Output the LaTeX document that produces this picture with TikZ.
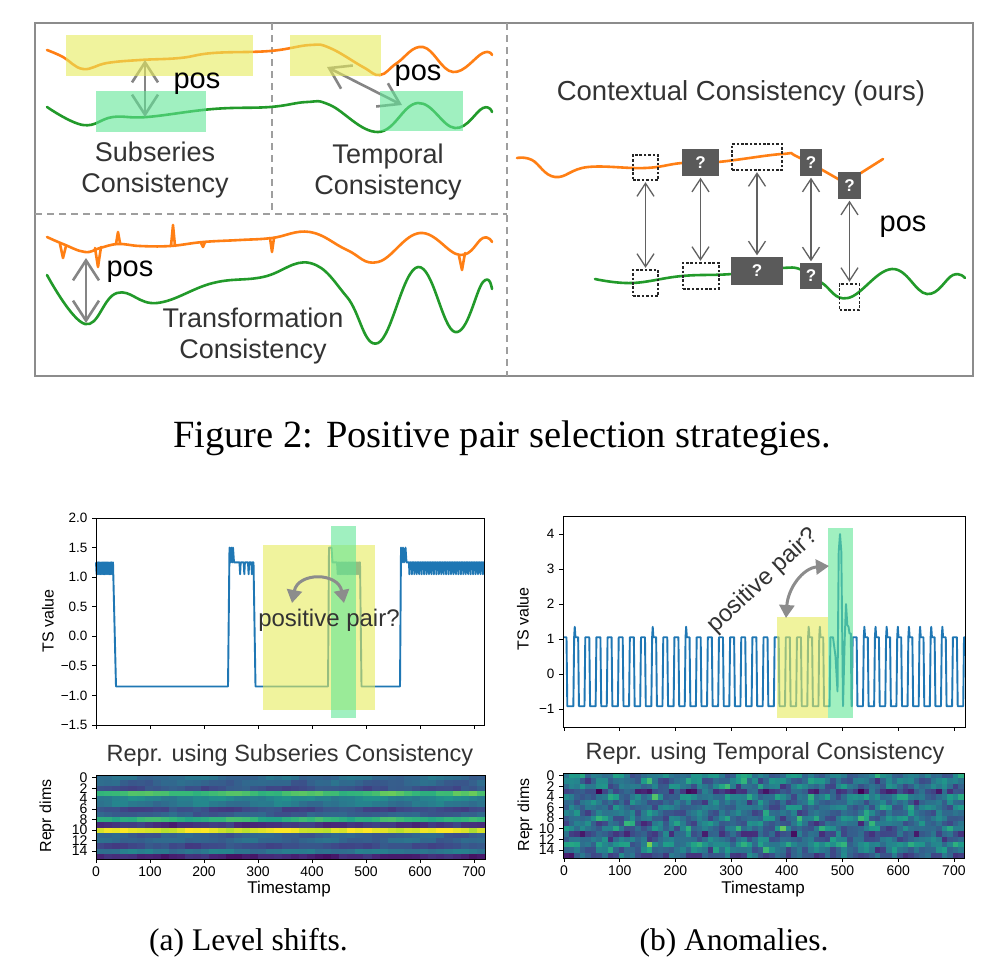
\documentclass[tikz,border=0pt]{standalone}
\usepackage{fontspec}
\setmainfont{Liberation Serif}
\setsansfont{Liberation Sans}
\usetikzlibrary{arrows.meta}
\definecolor{cor}{HTML}{FF7F14}
\definecolor{cgr}{HTML}{229A2A}
\definecolor{hly}{HTML}{E6EC5C}
\definecolor{hlg}{HTML}{61E696}
\definecolor{tsb}{HTML}{1F77B4}
\definecolor{qboxc}{HTML}{5A5A5A}
\definecolor{txt}{HTML}{333333}
\definecolor{vir0}{HTML}{440154}
\definecolor{vir1}{HTML}{482878}
\definecolor{vir2}{HTML}{3E4A89}
\definecolor{vir3}{HTML}{31688E}
\definecolor{vir4}{HTML}{26828E}
\definecolor{vir5}{HTML}{1F9E89}
\definecolor{vir6}{HTML}{35B779}
\definecolor{vir7}{HTML}{6DCD59}
\definecolor{vir8}{HTML}{B4DE2C}
\definecolor{vir9}{HTML}{FDE725}
\newcommand\fsz[1]{\fontsize{#1}{#1}\selectfont}
\newcommand\virset[1]{%
  \pgfmathsetmacro\vvs{max(0,min(8.999,(#1)*9))}%
  \pgfmathtruncatemacro\vvi{\vvs}%
  \pgfmathtruncatemacro\vvj{\vvi+1}%
  \pgfmathsetmacro\vvf{(\vvs-\vvi)*100}%
  \colorlet{vcell}{vir\vvj!\vvf!vir\vvi}%
}
\begin{document}
\begin{tikzpicture}[x=1pt,y=-1pt,
  curve/.style={line width=2.6pt, line cap=round, line join=round},
  ocurve/.style={curve, draw=cor},
  gcurve/.style={curve, draw=cgr},
  hyel/.style={fill=hly, fill opacity=0.6},
  hgrn/.style={fill=hlg, fill opacity=0.6},
  sep/.style={draw=black!38, line width=1.4pt, dash pattern=on 7pt off 5pt},
  posarrow/.style={draw=black!48, line width=2.6pt, {Straight Barb[length=20pt,width=26pt]}-{Straight Barb[length=20pt,width=26pt]}},
  lbl/.style={font=\sffamily\fontsize{27}{31}\selectfont, text=txt, align=center},
  poslbl/.style={font=\sffamily\fsz{29}, text=black},
  dotbox/.style={draw=black!85, line width=1.3pt, dash pattern=on 2.6pt off 1.8pt, inner sep=0pt},
  qbox/.style={fill=qboxc, inner sep=0pt, text=white, font=\sffamily\bfseries\fsz{17}},
  ctxarrow/.style={draw=black!62, line width=1.3pt, {Straight Barb[length=13pt,width=17pt]}-{Straight Barb[length=13pt,width=17pt]}, shorten <=1.5pt, shorten >=1.5pt},
  tsline/.style={draw=tsb, line width=1.9pt, line join=round},
  frame/.style={draw=black, line width=0.8pt},
  tick/.style={draw=black, line width=0.8pt},
  ticklbl/.style={font=\sffamily\fsz{13.5}, text=black},
  axlbl/.style={font=\sffamily\fsz{16}, text=black},
  ttl/.style={font=\sffamily\fsz{23.5}, text=txt},
  curarrow/.style={draw=black!45, line width=3pt, {Triangle[length=13pt,width=15pt]}-{Triangle[length=13pt,width=15pt]}},
  pplbl/.style={font=\sffamily\fsz{24}, text=txt},
  capt/.style={font=\fsz{38.5}, text=black, anchor=base},
  subcapt/.style={font=\fsz{31.5}, text=black, anchor=base}
]
\useasboundingbox (0,0) rectangle (1000,970);
\fill[white] (0,0) rectangle (1000,970);

% ================= TOP PANEL =================
\draw[draw=black!45, line width=2pt] (35,23) rectangle (973,376);
\draw[sep] (272,23) -- (272,214);
\draw[sep] (35,214) -- (507,214);
\draw[sep] (507,23) -- (507,376);

% curves top-left
\draw[ocurve] plot[smooth, tension=0.7] coordinates {(47,50) (63,57) (83,69) (107,63) (140,60) (180,58) (213,53) (270,51) (310,45) (330,48) (363,67) (380,75) (397,63) (423,47) (453,72) (483,53) (492,55)};
\draw[gcurve] plot[smooth, tension=0.7] coordinates {(47,107) (83,125) (113,117) (147,117) (213,109) (270,107) (307,102) (330,105) (378,132) (418,103) (455,128) (483,108) (492,112)};

% transformation curves
\draw[ocurve] plot[smooth, tension=0.7] coordinates {(47,237) (63,244) (85,252) (100,248) (118,244) (140,246) (170,246) (203,242) (240,240) (272,238) (310,232) (347,250) (378,262) (420,233) (460,255) (483,238) (492,242)};
\draw[ocurve] (60,244) -- (63,258) -- (66,246);
\draw[ocurve] (95,248) -- (98,267) -- (101,247);
\draw[ocurve] (116,244) -- (118,232) -- (120,243);
\draw[ocurve] (171,246) -- (173,225) -- (175,246);
\draw[ocurve] (201,243) -- (203,247) -- (205,242);
\draw[ocurve] (270,238) -- (272,252) -- (274,238);
\draw[ocurve] (459,256) -- (462,270) -- (465,253);
\draw[gcurve] plot[smooth, tension=0.7] coordinates {(47,275) (85,324) (117,293) (157,303) (213,283) (263,277) (310,263) (347,297) (378,343) (418,267) (455,332) (483,282) (492,289)};

% pos arrows
\coordinate (ss1) at (145,60);
\coordinate (ss2) at (145,117);
\coordinate (tp1) at (327,67);
\coordinate (tp2) at (402,105);
\coordinate (tf1) at (86,258);
\coordinate (tf2) at (86,323);
\draw[posarrow] (ss1) -- (ss2);
\draw[posarrow] (tp1) -- (tp2);
\draw[posarrow] (tf1) -- (tf2);

% highlights
\fill[hyel] (66,35) rectangle (253,76);
\fill[hgrn] (96,91) rectangle (206,132);
\fill[hyel] (290,35) rectangle (381,76);
\fill[hgrn] (380,91) rectangle (463,131);

\node[poslbl] (pos1) at (197,84) {pos};
\node[poslbl] (pos2) at (418,76) {pos};
\node[poslbl] (pos3) at (130,272) {pos};
\node[lbl] (subs) at (155,170.5) {Subseries\\Consistency};
\node[lbl] (temp) at (388,172.5) {Temporal\\Consistency};
\node[lbl] (trans) at (253,336) {Transformation\\Consistency};

% right panel
\node[lbl, font=\sffamily\fsz{27.5}] (ctx) at (741,93) {Contextual Consistency (ours)};
\draw[ocurve] plot[smooth, tension=0.7] coordinates {(517,158) (532,160) (555,177) (588,167) (645,168) (682,163) (718,162) (782,154) (798,157) (845,183)};
\draw[ocurve] (845,183) -- (883,159);
\draw[gcurve] plot[smooth, tension=0.7] coordinates {(595,279) (632,283) (682,276) (732,274) (782,268) (802,270) (822,283) (848,298) (892,269) (927,294) (953,275) (965,278)};

\node[dotbox, minimum width=25pt, minimum height=25pt] (T1) at (645.5,167.5) {};
\node[qbox, minimum width=37pt, minimum height=27pt] (T2) at (700.5,162.5) {?};
\node[dotbox, minimum width=50pt, minimum height=26pt] (T3) at (757,157) {};
\node[qbox, minimum width=22pt, minimum height=27pt] (T4) at (811,162.5) {?};
\node[qbox, minimum width=23pt, minimum height=27pt] (T5) at (849.5,185.5) {?};
\node[dotbox, minimum width=25pt, minimum height=26pt] (B1) at (645.5,283) {};
\node[dotbox, minimum width=36pt, minimum height=26pt] (B2) at (701,276) {};
\node[qbox, minimum width=52pt, minimum height=28pt] (B3) at (757,271) {?};
\node[qbox, minimum width=22pt, minimum height=26pt] (B4) at (811,276) {?};
\node[dotbox, minimum width=20pt, minimum height=26pt] (B5) at (849.5,297) {};
\draw[ctxarrow] (T1.south) -- (B1.north);
\draw[ctxarrow] (T2.south) -- (T2.south |- B2.north);
\draw[ctxarrow] (T3.south) -- (B3.north);
\draw[ctxarrow] (T4.south) -- (B4.north);
\draw[ctxarrow] (T5.south) -- (B5.north);
\node[poslbl] (pos4) at (903,227) {pos};

% caption
\node[capt] (cap) at (502,447) {Figure 2: Positive pair selection strategies.};

% ================= LEFT PLOT =================
\draw[tsline] (96,562.4) \foreach \k in {0,...,12}{ -- ({96.6+\k*1.3},574.2) -- ({97.2+\k*1.3},562.4)} -- (113,562.4) -- (116,686.5) -- (228,686.5) -- (229.5,547.6) -- (230.5,562.4) -- (231.3,547.6) -- (232.2,562.4) -- (233,547.6) -- (234,562.4) -- (239.5,562.4) -- (240.1,574.2) -- (240.7,562.4) -- (243.7,562.4) -- (244.3,574.2) -- (244.9,562.4) -- (248,562.4) -- (248.6,574.2) -- (249.2,562.4) -- (251.3,562.4) -- (251.9,574.2) -- (252.5,562.4) -- (253.5,562.4) -- (255.5,686.5) -- (328,686.5) -- (329,547.6) -- (331.5,547.6) -- (332.5,562.4) \foreach \k in {0,...,16}{ -- ({337+\k*1.4},562.4) -- ({337.7+\k*1.4},574.2)} -- (360,562.4) -- (361.5,686.5) -- (400,686.5) -- (401,547.6) -- (402,562.4) -- (403,547.6) -- (404,562.4) -- (405.5,547.6) -- (406.5,562.4) \foreach \k in {0,...,30}{ -- ({409+\k*2.45},562.4) -- ({409.4+\k*2.45},574.2) -- ({409.8+\k*2.45},562.4)} -- (484,562.4);
\fill[hyel] (263,545) rectangle (375,710);
\fill[hgrn] (331,526) rectangle (356,718);
\draw[frame] (96,518) rectangle (484,725);
\foreach \v/\t in {2.0/2.0,1.5/1.5,1.0/1.0,0.5/0.5,0.0/0.0,-0.5/−0.5,-1.0/−1.0,-1.5/−1.5}{
  \pgfmathsetmacro\yy{518+(2-\v)*59.143}
  \draw[tick] (96,\yy) -- (92,\yy);
  \node[ticklbl, anchor=east] at (91,\yy) {\t};
}
\foreach \t in {0,100,...,700}{
  \draw[tick] ({96+\t*0.54},725) -- ({96+\t*0.54},729);
}
\node[axlbl, rotate=90] (tsv1) at (48,621) {TS value};
\coordinate (lpa1) at (292,603);
\coordinate (lpa2) at (344,603);
\draw[curarrow] (lpa1) .. controls (298,572) and (338,572) .. (lpa2);
\node[pplbl] (pp1) at (329,620) {positive pair?};

% left heatmap
\node[ttl] (ht1) at (290,755) {Repr. using Subseries Consistency};
\pgfmathsetseed{42}
\begin{scope}
\clip (96,775) rectangle (485,859);
\foreach \r/\b in {0/0.35,1/0.32,2/0.25,3/0.70,4/0.45,5/0.40,6/0.22,7/0.30,8/0.64,9/0.15,10/0.95,11/0.30,12/0.33,13/0.23,14/0.40,15/0.10}{
  \foreach \c in {0,...,47}{
    \pgfmathsetmacro\hv{\b+0.03*rand+0.045*sin(\c*37+\r*71)}
    \virset{\hv}
    \fill[vcell] ({96+\c*8.104},{775+\r*5.25}) rectangle ++(8.6,5.6);
  }
}
\end{scope}
\draw[frame] (96,775) rectangle (485,859);
\foreach \r in {0,2,...,14}{
  \pgfmathsetmacro\yy{775+(\r+0.5)*5.25}
  \draw[tick] (96,\yy) -- (92,\yy);
  \node[ticklbl, font=\sffamily\fsz{14}, anchor=east] at (91,\yy) {\r};
}
\foreach \t in {0,100,...,700}{
  \draw[tick] ({96+\t*0.54},859) -- ({96+\t*0.54},863);
  \node[ticklbl, font=\sffamily\fsz{14}, anchor=north] at ({96+\t*0.54},863) {\t};
}
\node[axlbl, font=\sffamily\fsz{17}] (xl1) at (289,889) {Timestamp};
\node[axlbl, rotate=90] (yl1) at (47,816) {Repr dims};

% ================= RIGHT PLOT =================
\draw[tsline] (563,637.25) -- (566.5,637.25) -- (567.3,706.2) \foreach \k in {1,...,23}{ -- ({562.2+\k*11.14},706.2) -- ({563+\k*11.14},637.25) -- ({567+\k*11.14},637.25) -- ({567.8+\k*11.14},706.2)} -- (829.6,706.2) -- (830.4,637.25) -- (833,637.25) -- (835.5,656.5) -- (837.5,691.5) -- (838.7,551.5) -- (840,534) -- (841.3,551.5) -- (843,706.2) -- (844.7,639) -- (846,604) -- (847.3,625) -- (848.5,626.75) -- (849.5,633.5) -- (850.8,633.5) -- (851.5,706.2) \foreach \k in {26,...,35}{ -- ({562.2+\k*11.14},706.2) -- ({563+\k*11.14},637.25) -- ({567+\k*11.14},637.25) -- ({567.8+\k*11.14},706.2)} -- (963.2,706.2) -- (964,637.25) -- (965,637.25);
\foreach \k in {1,8,11,22,23,27,28,29,30,31,32,33,34}{
  \draw[tsline] ({563+\k*11.14},637.25) -- ({563.6+\k*11.14},626.75) -- ({564.3+\k*11.14},637.25);
}
\fill[hyel] (777,617) rectangle (828,718);
\fill[hgrn] (828,528) rectangle (853,718);
\draw[frame] (563,516) rectangle (965,727);
\foreach \v/\t in {4/4,3/3,2/2,1/1,0/0,-1/−1}{
  \pgfmathsetmacro\yy{674-\v*35}
  \draw[tick] (563,\yy) -- (559,\yy);
  \node[ticklbl, anchor=east] at (558,\yy) {\t};
}
\foreach \t in {0,100,...,700}{
  \draw[tick] ({564+\t*0.557},727) -- ({564+\t*0.557},731);
}
\node[axlbl, rotate=90] (tsv2) at (523,619) {TS value};
\node[pplbl, rotate=42.7] (pp2) at (763,581) {positive pair?};
\coordinate (rpa1) at (786,618);
\coordinate (rpa2) at (829,566);
\draw[curarrow] (rpa1) .. controls (788,588) and (803,568) .. (rpa2);

% right heatmap
\node[ttl] (ht2) at (765,753) {Repr. using Temporal Consistency};
\pgfmathsetseed{7}
\begin{scope}
\clip (563,773) rectangle (964,858);
\foreach \r/\b in {0/0.40,1/0.36,2/0.38,3/0.20,4/0.40,5/0.34,6/0.38,7/0.34,8/0.38,9/0.34,10/0.38,11/0.24,12/0.34,13/0.46,14/0.36,15/0.28}{
  \foreach \c in {0,...,71}{
    \pgfmathsetmacro\hv{\b+0.08*sin(\c*47+\r*113)+0.07*sin(\c*83-\r*59)+0.1*rand+1.6*max(0,rnd-0.87)}
    \virset{\hv}
    \fill[vcell] ({563+\c*5.569},{773+\r*5.3125}) rectangle ++(6.0,5.7);
  }
}
\end{scope}
\draw[frame] (563,773) rectangle (964,858);
\foreach \r in {0,2,...,14}{
  \pgfmathsetmacro\yy{773+(\r+0.5)*5.3125}
  \draw[tick] (563,\yy) -- (559,\yy);
  \node[ticklbl, font=\sffamily\fsz{14}, anchor=east] at (558,\yy) {\r};
}
\foreach \t in {0,100,...,700}{
  \draw[tick] ({564+\t*0.557},858) -- ({564+\t*0.557},862);
  \node[ticklbl, font=\sffamily\fsz{14}, anchor=north] at ({564+\t*0.557},862) {\t};
}
\node[axlbl, font=\sffamily\fsz{17}] (xl2) at (763,889) {Timestamp};
\node[axlbl, rotate=90] (yl2) at (525,815) {Repr dims};

% sub-captions
\node[subcapt] (sca) at (248.5,950) {(a) Level shifts.};
\node[subcapt] (scb) at (734,950) {(b) Anomalies.};
\end{tikzpicture}
\end{document}
